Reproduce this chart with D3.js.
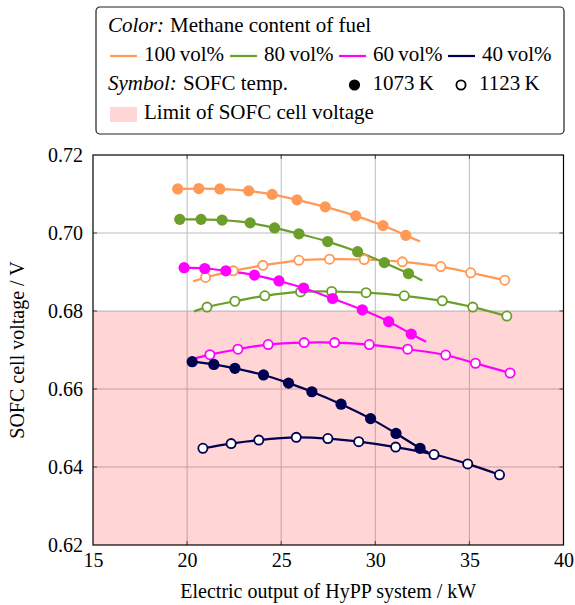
<!DOCTYPE html>
<html>
<head>
<meta charset="utf-8">
<script src="https://cdn.jsdelivr.net/npm/d3@7"></script>
<style>
  body { margin: 0; background: #fff; }
  text { font-family: "Liberation Serif", "Times New Roman", serif; fill: #000; }
</style>
</head>
<body>
<div id="chart"></div>
<script>
// electric output (kW) and cell voltage (V)
const methaneLevels = ["100 vol%", "80 vol%", "60 vol%", "40 vol%"];
const temps = ["1073 K", "1123 K"];

const ch4_100_1073_x = [19.50, 20.62, 21.74, 23.27, 24.52, 25.84, 27.34, 28.96, 30.41, 31.62];
const ch4_100_1073_y = [0.7113, 0.7114, 0.7113, 0.7108, 0.7099, 0.7085, 0.7067, 0.7044, 0.7019, 0.6994];
const ch4_100_1123_x = [20.98, 22.45, 24.03, 25.94, 27.57, 29.41, 31.44, 33.48, 35.07, 36.88];
const ch4_100_1123_y = [0.6886, 0.6903, 0.6917, 0.6930, 0.6933, 0.6932, 0.6926, 0.6914, 0.6898, 0.6879];

const ch4_80_1073_x = [19.61, 20.74, 21.86, 23.35, 24.65, 25.94, 27.47, 29.06, 30.48, 31.76];
const ch4_80_1073_y = [0.7035, 0.7035, 0.7033, 0.7026, 0.7013, 0.6998, 0.6978, 0.6952, 0.6924, 0.6896];
const ch4_80_1123_x = [21.06, 22.54, 24.13, 26.03, 27.68, 29.51, 31.54, 33.56, 35.18, 36.99];
const ch4_80_1123_y = [0.6810, 0.6825, 0.6839, 0.6849, 0.6850, 0.6847, 0.6839, 0.6826, 0.6810, 0.6787];

const ch4_60_1073_x = [19.84, 20.94, 22.06, 23.58, 24.88, 26.19, 27.73, 29.31, 30.71, 31.91];
const ch4_60_1073_y = [0.6911, 0.6909, 0.6903, 0.6892, 0.6877, 0.6859, 0.6832, 0.6803, 0.6773, 0.6741];
const ch4_60_1123_x = [21.21, 22.70, 24.31, 26.22, 27.84, 29.68, 31.72, 33.74, 35.32, 37.16];
const ch4_60_1123_y = [0.6688, 0.6702, 0.6714, 0.6719, 0.6719, 0.6714, 0.6702, 0.6687, 0.6666, 0.6641];

const ch4_40_1073_x = [20.27, 21.42, 22.54, 24.06, 25.39, 26.63, 28.18, 29.75, 31.10, 32.38];
const ch4_40_1073_y = [0.6670, 0.6663, 0.6653, 0.6636, 0.6615, 0.6593, 0.6561, 0.6524, 0.6486, 0.6448];
const ch4_40_1123_x = [20.84, 22.34, 23.81, 25.80, 27.48, 29.12, 31.08, 33.12, 34.91, 36.60];
const ch4_40_1123_y = [0.6448, 0.6460, 0.6469, 0.6476, 0.6473, 0.6465, 0.6451, 0.6432, 0.6408, 0.6380];

// fitted curves run a bit past the markers: [x, y] of the extra end points (null = none)
const fitStart = [[null, null], [20.32, 0.6876], [null, null], [20.37, 0.6799], [null, null], [20.37, 0.6678], [null, null], [null, null]];
const fitEnd = [[32.38, 0.6978], [null, null], [32.50, 0.6878], [null, null], [32.70, 0.6721], [null, null], [32.82, 0.6437], [null, null]];

const xTicks = [15, 20, 25, 30, 35, 40];
const yTicks = [0.62, 0.64, 0.66, 0.68, 0.70, 0.72];
const voltageLimit = 0.68;

const colors = ["#ff9955", "#6b9e2a", "#ff00ff", "#000050"];

const seriesX = [ch4_100_1073_x, ch4_100_1123_x, ch4_80_1073_x, ch4_80_1123_x,
                 ch4_60_1073_x, ch4_60_1123_x, ch4_40_1073_x, ch4_40_1123_x];
const seriesY = [ch4_100_1073_y, ch4_100_1123_y, ch4_80_1073_y, ch4_80_1123_y,
                 ch4_60_1073_y, ch4_60_1123_y, ch4_40_1073_y, ch4_40_1123_y];

const series = seriesX.map((xs, i) => {
  const points = xs.map((x, j) => ({ x: x, y: seriesY[i][j] }));
  let line = points.slice();
  if (fitStart[i][0] !== null) line.unshift({ x: fitStart[i][0], y: fitStart[i][1] });
  if (fitEnd[i][0] !== null) line.push({ x: fitEnd[i][0], y: fitEnd[i][1] });
  return { points, line, color: colors[Math.floor(i / 2)], open: i % 2 === 1 };
});

const W = 575, H = 605;
const margin = { top: 155, right: 12, bottom: 60, left: 93 },
  width = 563.5 - margin.left,
  height = 545 - margin.top;

const svg = d3.select("#chart").append("svg")
  .attr("width", W)
  .attr("height", H);

const g = svg.append("g")
  .attr("transform", "translate(" + margin.left + "," + margin.top + ")");

const x = d3.scaleLinear().domain([15, 40]).range([0, width]);
const y = d3.scaleLinear().domain([0.62, 0.72]).range([height, 0]);

// grid
g.append("g").selectAll("line")
  .data(xTicks.slice(1, -1))
  .enter().append("line")
  .attr("x1", d => x(d)).attr("x2", d => x(d))
  .attr("y1", 0).attr("y2", height)
  .attr("stroke", "#bdbdbd").attr("stroke-width", 1);

g.append("g").selectAll("line")
  .data(yTicks.slice(1, -1))
  .enter().append("line")
  .attr("x1", 0).attr("x2", width)
  .attr("y1", d => y(d)).attr("y2", d => y(d))
  .attr("stroke", "#bdbdbd").attr("stroke-width", 1);

// limit region
g.append("rect")
  .attr("x", x(15))
  .attr("y", y(voltageLimit))
  .attr("width", x(40) - x(15))
  .attr("height", y(0.62) - y(voltageLimit))
  .attr("fill", "#ff0000")
  .attr("fill-opacity", 0.165);

// inner ticks on all four sides
const tickLen = 4;
const tickG = g.append("g").attr("stroke", "#444").attr("stroke-width", 1);
xTicks.slice(1, -1).forEach(t => {
  tickG.append("line").attr("x1", x(t)).attr("x2", x(t)).attr("y1", height).attr("y2", height - tickLen);
  tickG.append("line").attr("x1", x(t)).attr("x2", x(t)).attr("y1", 0).attr("y2", tickLen);
});
yTicks.slice(1, -1).forEach(t => {
  tickG.append("line").attr("x1", 0).attr("x2", tickLen).attr("y1", y(t)).attr("y2", y(t));
  tickG.append("line").attr("x1", width).attr("x2", width - tickLen).attr("y1", y(t)).attr("y2", y(t));
});

// tick labels
const xAxis = d3.axisBottom(x).tickValues(xTicks).tickSize(0).tickPadding(8).tickFormat(d3.format("d"));
g.append("g")
  .attr("transform", "translate(0," + height + ")")
  .call(xAxis)
  .call(s => s.select(".domain").remove())
  .selectAll("text")
  .style("font-size", "20px")
  .style("font-family", "Liberation Serif");

const yAxis = d3.axisLeft(y).tickValues(yTicks).tickSize(0).tickPadding(10).tickFormat(d3.format(".2f"));
g.append("g")
  .call(yAxis)
  .call(s => s.select(".domain").remove())
  .selectAll("text")
  .style("font-size", "20px")
  .style("font-family", "Liberation Serif");

// curves
const curve = d3.line()
  .x(d => x(d.x))
  .y(d => y(d.y))
  .curve(d3.curveCatmullRom);

series.forEach(s => {
  g.append("path")
    .datum(s.line)
    .attr("fill", "none")
    .attr("stroke", s.color)
    .attr("stroke-width", 2.2)
    .attr("d", curve);
});

series.forEach(s => {
  g.selectAll(null)
    .data(s.points)
    .enter().append("circle")
    .attr("cx", d => x(d.x))
    .attr("cy", d => y(d.y))
    .attr("r", s.open ? 4.6 : 5.6)
    .attr("fill", s.open ? "#fff" : s.color)
    .attr("stroke", s.open ? s.color : "none")
    .attr("stroke-width", s.open ? 1.8 : 0);
});

// frame
g.append("rect")
  .attr("width", width).attr("height", height)
  .attr("fill", "none").attr("stroke", "#000").attr("stroke-width", 1.2);

// axis titles
svg.append("text")
  .attr("x", margin.left + width / 2)
  .attr("y", 598)
  .style("text-anchor", "middle")
  .style("font-size", "20px")
  .text("Electric output of HyPP system / kW");

svg.append("text")
  .attr("transform", "translate(24," + (margin.top + height / 2) + ") rotate(-90)")
  .style("text-anchor", "middle")
  .style("font-size", "20px")
  .text("SOFC cell voltage / V");

// legend
const lg = svg.append("g").style("font-size", "21px");
lg.append("rect")
  .attr("x", 96).attr("y", 7)
  .attr("width", 468).attr("height", 127)
  .attr("rx", 4)
  .attr("fill", "#fff").attr("stroke", "#222").attr("stroke-width", 1.2);

lg.append("text").attr("x", 108).attr("y", 32).style("font-style", "italic").text("Color:");
lg.append("text").attr("x", 170).attr("y", 32).text("Methane content of fuel");

const lineX = [110, 230, 339, 448];
methaneLevels.forEach((lab, i) => {
  lg.append("line")
    .attr("x1", lineX[i]).attr("x2", lineX[i] + 27)
    .attr("y1", 56).attr("y2", 56)
    .attr("stroke", colors[i]).attr("stroke-width", 2.2);
  lg.append("text")
    .attr("x", lineX[i] + 34).attr("y", 61)
    .text(lab.replace(" ", "\u2009"));
});

lg.append("text").attr("x", 108).attr("y", 90).style("font-style", "italic").text("Symbol:");
lg.append("text").attr("x", 183).attr("y", 90).text("SOFC temp.");

const symX = [354.5, 461];
temps.forEach((lab, i) => {
  lg.append("circle")
    .attr("cx", symX[i]).attr("cy", 85)
    .attr("r", i === 0 ? 5.6 : 4.6)
    .attr("fill", i === 0 ? "#000" : "#fff")
    .attr("stroke", "#000")
    .attr("stroke-width", i === 0 ? 0 : 1.8);
  lg.append("text")
    .attr("x", symX[i] + 18).attr("y", 90)
    .text(lab.replace(" ", "\u2009"));
});

lg.append("rect")
  .attr("x", 110).attr("y", 107)
  .attr("width", 27).attr("height", 15)
  .attr("fill", "#ff0000").attr("fill-opacity", 0.165);
lg.append("text")
  .attr("x", 144).attr("y", 119)
  .text("Limit of SOFC cell voltage");
</script>
</body>
</html>
